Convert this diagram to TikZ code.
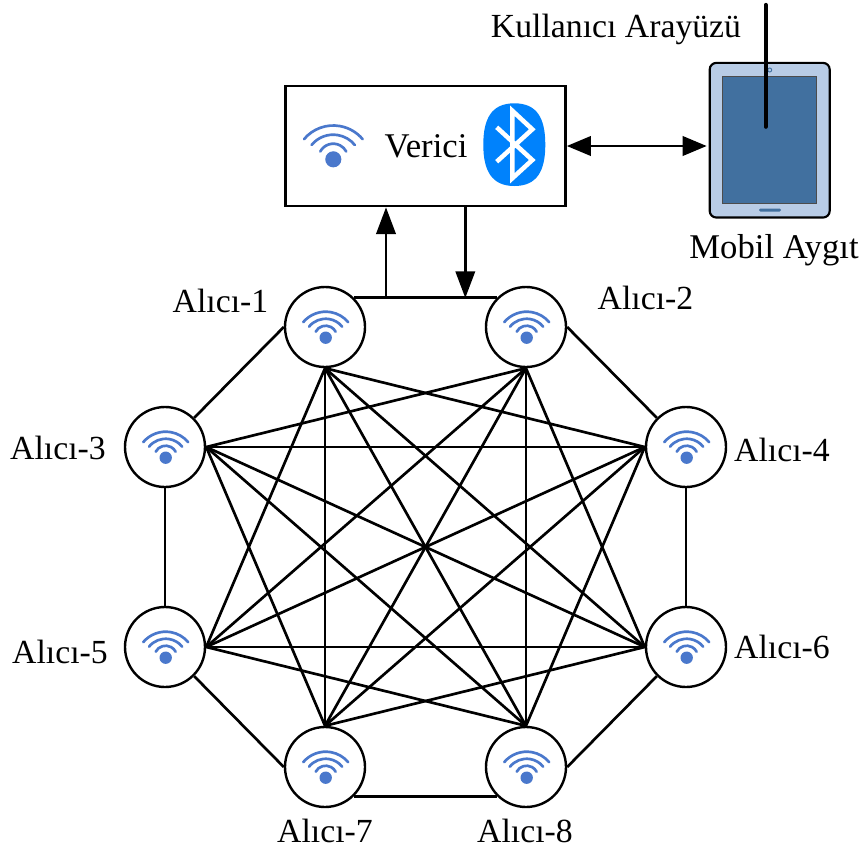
\documentclass[tikz,border=0pt]{standalone}
\usepackage{fontspec}
\setmainfont{Liberation Serif}
\usetikzlibrary{arrows.meta}
\definecolor{wifiblue}{HTML}{4A78CC}
\definecolor{btblue}{HTML}{0082FC}
\definecolor{tabletlight}{HTML}{B8CCE6}
\definecolor{tabletdark}{HTML}{41709F}
\tikzset{
  x=0.75pt,y=-0.75pt,
  lbl/.style={font=\fontsize{25.3}{30}\selectfont,anchor=base,inner sep=0pt},
  lblbig/.style={font=\fontsize{26}{30}\selectfont,anchor=base,inner sep=0pt},
  rx/.style={circle,draw=black,line width=1.8pt,fill=white,minimum size=60pt,inner sep=0pt},
  conn/.style={draw=black,line width=2pt},
  flow/.style={draw=black,line width=2pt,-{Triangle[length=20pt,width=14.5pt]}},
  biflow/.style={draw=black,line width=2pt,{Triangle[length=18pt,width=14.5pt]}-{Triangle[length=18pt,width=14.5pt]}},
  wifi/.pic={
    \begin{scope}[x=0.75pt,y=0.75pt]
      \fill[wifiblue] (0,0) circle[radius=6.2];
      \draw[wifiblue,line width=2pt,line cap=round] (-22.5,15.5) arc[start angle=140,end angle=40,radius=29.4];
      \draw[wifiblue,line width=2pt,line cap=round] (-16.7,11) arc[start angle=141,end angle=39,radius=21.4];
      \draw[wifiblue,line width=2pt,line cap=round] (-10,6) arc[start angle=152,end angle=28,radius=11.3];
    \end{scope}
  }
}
\begin{document}
\begin{tikzpicture}
\useasboundingbox[fill=white] (0,0) rectangle (865,854);

% tablet
\node[draw=black,line width=1.6pt,fill=tabletlight,rounded corners=5pt,minimum width=90pt,minimum height=116pt,inner sep=0pt] (tablet) at (769.7,140.2) {};
\node[draw=black!70,line width=0.8pt,fill=tabletdark,minimum width=70.5pt,minimum height=95.5pt,inner sep=0pt] (screen) at (769.7,140.2) {};
\fill[tabletdark,rounded corners=1pt] (759,208.5) rectangle (781,211.5);
\draw[tabletdark,line width=0.7pt] (769.7,70) circle[radius=2];

% transmitter
\node[draw=black,line width=2pt,fill=white,minimum width=210pt,minimum height=90pt,inner sep=0pt] (verici) at (425.5,146) {};
\node[lblbig] (vericilbl) at (426,157) {Verici};
\pic[scale=1.3] at (333.3,159.3) {wifi};
\fill[btblue] (514.3,103.3) .. controls (537,103.3) and (545.3,118) .. (545.3,144.7)
  .. controls (545.3,171) and (537,186) .. (514.3,186)
  .. controls (492,186) and (483.3,171) .. (483.3,144.7)
  .. controls (483.3,118) and (492,103.3) .. (514.3,103.3) -- cycle;
\draw[white,line width=3.4pt,miter limit=10] (496.7,127.3) -- (532.3,160) -- (512.3,178.3) -- (512.3,110.7) -- (532.3,129.3) -- (496.7,161.7);

% receivers
\node[rx] (a1) at (325,327) {};
\node[rx] (a2) at (526,327) {};
\node[rx] (a3) at (165,447) {};
\node[rx] (a4) at (686,447) {};
\node[rx] (a5) at (165,647) {};
\node[rx] (a6) at (686,647) {};
\node[rx] (a7) at (325,767) {};
\node[rx] (a8) at (526,767) {};

% inner mesh
\foreach \p/\q in {a1.south/a4.west,a1.south/a5.east,a1.south/a6.west,a1.south/a7.north,a1.south/a8.north,
  a2.south/a3.east,a2.south/a5.east,a2.south/a6.west,a2.south/a7.north,a2.south/a8.north,
  a3.east/a4.west,a3.east/a6.west,a3.east/a7.north,a3.east/a8.north,
  a4.west/a5.east,a4.west/a7.north,a4.west/a8.north,
  a5.east/a6.west,a5.east/a8.north,
  a6.west/a7.north}
  \draw[conn] (\p) -- (\q);

% outer ring
\draw[conn] (a1.46) -- (a2.134);
\draw[conn] (a1.west) -- (a3.45);
\draw[conn] (a2.east) -- (a4.135);
\draw[conn] (a3.south) -- (a5.north);
\draw[conn] (a4.south) -- (a6.north);
\draw[conn] (a5.-45) -- (a7.west);
\draw[conn] (a6.-135) -- (a8.east);
\draw[conn] (a7.-46) -- (a8.-134);

% wifi glyphs
\foreach \n in {a1,a2,a3,a4,a5,a6,a7,a8}
  \path (\n) ++(0.7,10.7) pic {wifi};

% links to transmitter
\coordinate (upfoot) at (386,298);
\coordinate (downfoot) at (465.3,298);
\draw[flow] (upfoot) -- (upfoot |- verici.south);
\draw[flow] (downfoot |- verici.south) -- (downfoot);
\coordinate (tabletport) at (706.7,146);
\draw[biflow] (verici.east |- tabletport) -- (tabletport);

% pointer to the screen
\coordinate (pointertop) at (765.7,5);
\coordinate (pointerend) at (765.7,126.7);
\draw[line width=3.2pt,line cap=round] (pointertop) -- (pointerend);

% labels
\node[lbl] (ui) at (616,37) {Kullanıcı Arayüzü};
\node[lblbig] (mobil) at (774,258) {Mobil Aygıt};
\node[lbl] (l1) at (220.5,312) {Alıcı-1};
\node[lbl] (l2) at (645.5,309) {Alıcı-2};
\node[lbl] (l3) at (58,459) {Alıcı-3};
\node[lbl] (l4) at (782,461) {Alıcı-4};
\node[lbl] (l5) at (60,663) {Alıcı-5};
\node[lbl] (l6) at (782,658) {Alıcı-6};
\node[lbl] (l7) at (325,842) {Alıcı-7};
\node[lbl] (l8) at (525,842) {Alıcı-8};
\end{tikzpicture}
\end{document}
